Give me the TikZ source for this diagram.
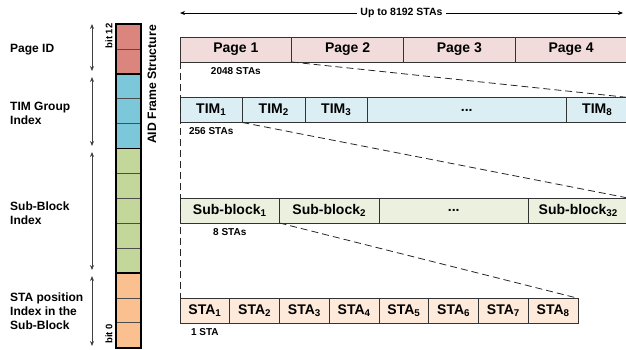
\documentclass[tikz,border=0pt]{standalone}
\usepackage{fontspec}
\setmainfont{Liberation Sans}
\usetikzlibrary{arrows.meta,positioning}
\definecolor{pagecol}{RGB}{218,134,126}
\definecolor{timcol}{RGB}{124,200,218}
\definecolor{subcol}{RGB}{196,215,155}
\definecolor{stacol}{RGB}{250,192,144}
\definecolor{pagerow}{RGB}{242,220,219}
\definecolor{timrow}{RGB}{218,238,243}
\definecolor{subrow}{RGB}{235,241,222}
\definecolor{starow}{RGB}{253,234,218}

\begin{document}
\begin{tikzpicture}[x=1pt,y=-1pt,
	cell/.style={draw=black!80,line width=0.9pt,outer sep=0pt,inner sep=0pt,minimum height=25pt,font=\fontsize{14}{16}\selectfont\bfseries},
	pagecell/.style={cell,fill=pagerow,minimum width=111.75pt},
	timcell/.style={cell,fill=timrow,minimum width=62.5pt},
	subcell/.style={cell,fill=subrow,minimum width=99.5pt},
	stacell/.style={cell,fill=starow,minimum width=49.75pt},
	note/.style={font=\fontsize{10}{12}\selectfont\bfseries,inner sep=0pt},
	sidelabel/.style={anchor=west,align=left,font=\fontsize{12}{14}\selectfont\bfseries,inner sep=0pt},
	bitlabel/.style={rotate=90,font=\fontsize{9.5}{11}\selectfont\bfseries,inner sep=0pt},
	span/.style={<->,>={Stealth[length=5pt,width=4pt]},black!75,line width=0.8pt},
	zoomline/.style={dash pattern=on 7pt off 4pt,line width=0.8pt,black!85}]
	\useasboundingbox (0,0) rectangle (626,349);

	% AID bit column
	\foreach \top/\n/\col in {0/2/pagecol,2/3/timcol,5/5/subcol,10/3/stacol}
		\fill[\col] (116,{24+\top*24.9}) rectangle (141,{24+(\top+\n)*24.9});
	\foreach \k in {1,3,4,6,7,8,9,11,12}
		\draw[black!70,line width=0.8pt] (116,{24+\k*24.9}) -- (141,{24+\k*24.9});
	\foreach \top/\n in {0/2,2/3,5/5,10/3}
		\draw[line width=1.6pt] (116,{24+\top*24.9}) rectangle (141,{24+(\top+\n)*24.9});
	\node[bitlabel] (b12) at (109,36) {bit 12};
	\node[bitlabel] (b0) at (109,334) {bit 0};
	\node[rotate=90,font=\fontsize{12.2}{14}\selectfont\bfseries,inner sep=0pt] (aid) at (152,84.5) {AID Frame Structure};

	% field spans
	\draw[span] (92,24) -- (92,71);
	\draw[span] (92,77) -- (92,146);
	\draw[span] (92,152) -- (92,270);
	\draw[span] (92,276) -- (92,346);
	\node[sidelabel] (lpage) at (10,50) {Page ID};
	\node[sidelabel] (ltim) at (10,113.5) {TIM Group\\Index};
	\node[sidelabel] (lsub) at (10,213) {Sub-Block\\Index};
	\node[sidelabel] (lsta) at (10,311) {STA position\\Index in the\\Sub-Block};

	% pages
	\node[pagecell,anchor=west] (p1) at (180,49.5) {Page 1};
	\node[pagecell,right=0pt of p1] (p2) {Page 2};
	\node[pagecell,right=0pt of p2] (p3) {Page 3};
	\node[pagecell,right=0pt of p3] (p4) {Page 4};
	\node[note,below=5pt of p1] (n1) {2048 STAs};

	% TIM groups
	\node[timcell,anchor=west] (t1) at (180,110) {TIM\textsubscript{1}};
	\node[timcell,right=0pt of t1] (t2) {TIM\textsubscript{2}};
	\node[timcell,right=0pt of t2] (t3) {TIM\textsubscript{3}};
	\node[timcell,minimum width=198.5pt,right=0pt of t3] (tdots) {...};
	\node[timcell,right=0pt of tdots] (t8) {TIM\textsubscript{8}};
	\node[note,below=5pt of t1] (n2) {256 STAs};

	% sub-blocks
	\node[subcell,anchor=west] (s1) at (180,210.5) {Sub-block\textsubscript{1}};
	\node[subcell,right=0pt of s1] (s2) {Sub-block\textsubscript{2}};
	\node[subcell,minimum width=149.5pt,right=0pt of s2] (sdots) {...};
	\node[subcell,right=0pt of sdots] (s32) {Sub-block\textsubscript{32}};
	\node[note,below=5pt of s1] (n3) {8 STAs};

	% stations
	\node[stacell,anchor=west] (a1) at (180,310.75) {STA\textsubscript{1}};
	\foreach \i [remember=\i as \j (initially 1)] in {2,...,8}
		\node[stacell,right=0pt of a\j] (a\i) {STA\textsubscript{\i}};
	\node[note,below=5pt of a1] (n4) {1 STA};

	% zoom lines
	\draw[zoomline] (p1.south west) -- (a1.north west);
	\draw[zoomline] (p1.south east) -- (t8.north east);
	\draw[zoomline] (t1.south east) -- (s32.north east);
	\draw[zoomline] (s1.south east) -- (a8.north east);

	% total width
	\draw[span,black] (180,13) -- node[fill=white,inner sep=3pt,font=\fontsize{10.5}{12}\selectfont\bfseries] (total) {Up to 8192 STAs} (623,13);
\end{tikzpicture}
\end{document}
